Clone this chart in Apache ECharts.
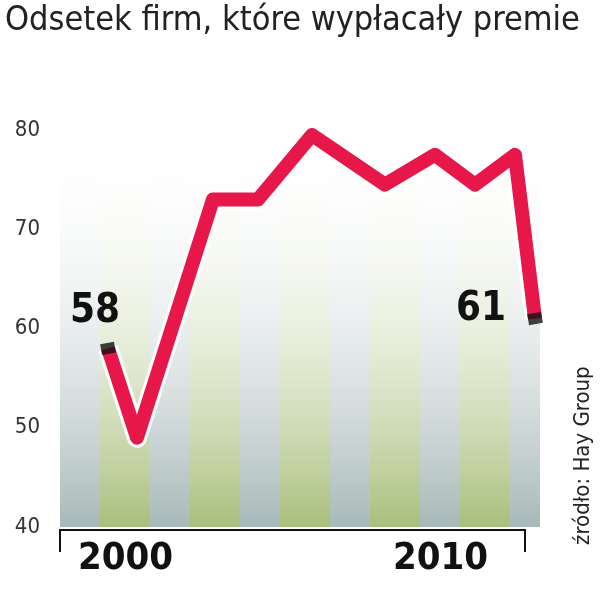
<!DOCTYPE html>
<html><head><meta charset="utf-8">
<script src="https://cdn.jsdelivr.net/npm/echarts@6/dist/echarts.min.js"></script>
<style>html,body{margin:0;background:#fff}#main{width:600px;height:594px}</style>
</head><body><div id="main"></div>
<script>
// dane
var xPos = [4.8, 7.7, 15.3, 19.8, 25.2, 32.5, 37.5, 41.5, 45.5, 47.5];
var values = [58, 49, 73, 73, 79.5, 74.5, 77.5, 74.5, 77.5, 61];
var yTicks = [40, 50, 60, 70, 80];
var yearLabels = ['2000', '2010'];
var greenStripes = [[4, 9], [13, 18], [22, 27], [31, 36], [40, 45]];
var grayStripes = [[0, 4], [9, 13], [18, 22], [27, 31], [36, 40], [45, 48]];

var fontN = '"Liberation Sans Narrow","DejaVu Sans Condensed","Liberation Sans",sans-serif';

function grad(c) {
	return new echarts.graphic.LinearGradient(0, 0, 0, 1, [
		{offset: 0, color: 'rgba(255,255,255,0)'},
		{offset: 1, color: c}
	]);
}
var areas = [];
for (var i = 0; i < greenStripes.length; i++) {
	areas.push([{xAxis: greenStripes[i][0], itemStyle: {color: grad('#a9bf7c')}}, {xAxis: greenStripes[i][1]}]);
}
for (var i = 0; i < grayStripes.length; i++) {
	areas.push([{xAxis: grayStripes[i][0], itemStyle: {color: grad('#a8b8b8')}}, {xAxis: grayStripes[i][1]}]);
}
var pts = [];
for (var i = 0; i < values.length; i++) pts.push([xPos[i], values[i]]);

var myChart = echarts.init(document.getElementById('main'));
var option = {
	animation: false,
	grid: {left: 60, right: 60, top: 130, bottom: 67},
	xAxis: {type: 'value', min: 0, max: 48, show: false},
	yAxis: {
		type: 'value', min: 40, max: 80, interval: 10,
		axisLine: {show: false}, axisTick: {show: false},
		axisLabel: {color: '#333', fontSize: 22, fontFamily: fontN, margin: 20},
		splitLine: {lineStyle: {color: '#fff', width: 2}}
	},
	series: [{
		type: 'line', data: pts, symbol: 'none', z: 3,
		lineStyle: {color: '#fff', width: 20, join: 'round'},
		markArea: {silent: true, data: areas}
	}, {
		type: 'line', data: pts, symbol: 'none', z: 4,
		lineStyle: {color: '#e8174a', width: 14, join: 'round'}
	}, {
		type: 'scatter', z: 5, symbol: 'rect', symbolSize: [14, 11], symbolRotate: 10,
		itemStyle: {color: '#111'},
		data: [pts[0], pts[pts.length - 1]]
	}],
	graphic: [
		{type: 'text', z: 100, left: 5, top: 4, style: {text: 'Odsetek firm, które wypłacały premie', font: '34px ' + fontN, fill: '#222'}},
		{type: 'text', z: 100, left: 70, top: 292, style: {text: '58', font: 'bold 40px ' + fontN, fill: '#111'}},
		{type: 'text', z: 100, left: 456, top: 290, style: {text: '61', font: 'bold 40px ' + fontN, fill: '#111'}},
		{type: 'text', z: 100, left: 78, top: 540, style: {text: yearLabels[0], font: 'bold 38px ' + fontN, fill: '#111'}},
		{type: 'text', z: 100, left: 393, top: 540, style: {text: yearLabels[1], font: 'bold 38px ' + fontN, fill: '#111'}},
		{type: 'polyline', z: 100, shape: {points: [[60, 552], [60, 530], [525, 530], [525, 552]]}, style: {stroke: '#111', lineWidth: 2, fill: null}},
		{type: 'text', z: 100, x: 572, y: 545, rotation: Math.PI / 2, style: {text: 'źródło: Hay Group', font: '22px ' + fontN, fill: '#222'}}
	]
};
myChart.setOption(option);
</script></body></html>
